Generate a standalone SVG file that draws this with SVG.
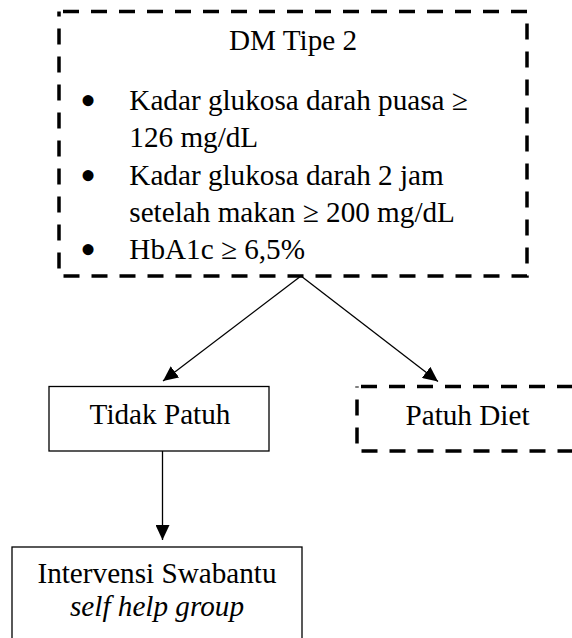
<svg xmlns="http://www.w3.org/2000/svg" width="572" height="638" viewBox="0 0 572 638">
<defs>
<style>
text{font-family:"Liberation Serif","Times New Roman",serif;font-size:29.2px;fill:#000}
.c{text-anchor:middle}
.it{font-style:italic}
.b{font-size:46px;text-anchor:middle}
.dash{fill:none;stroke:#000;stroke-width:3.5;stroke-dasharray:16 12}
.solid{fill:none;stroke:#000;stroke-width:1.3}
.conn{stroke:#000;stroke-width:1.3;fill:none;marker-end:url(#arr)}
</style>
<marker id="arr" viewBox="0 0 15 14" refX="15" refY="7" markerWidth="15" markerHeight="14" markerUnits="userSpaceOnUse" orient="auto">
<path d="M0,0 L15,7 L0,14 z" fill="#000"/>
</marker>
</defs>
<rect width="572" height="638" fill="#fff"/>
<g id="connectors">
<line class="conn" x1="301" y1="276" x2="163" y2="381"/>
<line class="conn" x1="301" y1="276" x2="438" y2="381.5"/>
<line class="conn" x1="162.5" y1="451" x2="162.5" y2="540"/>
</g>
<g id="dm-tipe-2">
<rect class="dash" x="59" y="11.5" width="468" height="264.5" stroke-dashoffset="-4"/>
<text class="c" x="293" y="50">DM Tipe 2</text>
<text class="b" x="88" y="116">•</text>
<text x="129.3" y="110">Kadar glukosa darah puasa ≥</text>
<text x="129.3" y="147">126 mg/dL</text>
<text class="b" x="88" y="190.5">•</text>
<text x="129.3" y="184.5">Kadar glukosa darah 2 jam</text>
<text x="129.3" y="221.5">setelah makan ≥ 200 mg/dL</text>
<text class="b" x="88" y="265">•</text>
<text x="129.3" y="259">HbA1c ≥ 6,5%</text>
</g>
<g id="tidak-patuh">
<rect class="solid" x="49" y="386.5" width="220" height="64.5"/>
<text class="c" x="160" y="424">Tidak Patuh</text>
</g>
<g id="patuh-diet">
<rect class="dash" x="357" y="386.5" width="260" height="64.5" stroke-dashoffset="-4"/>
<text class="c" x="467.5" y="425">Patuh Diet</text>
</g>
<g id="intervensi">
<rect class="solid" x="12" y="547" width="290" height="120"/>
<text class="c" x="157" y="583">Intervensi Swabantu</text>
<text class="c it" x="157" y="616">self help group</text>
</g>
</svg>
